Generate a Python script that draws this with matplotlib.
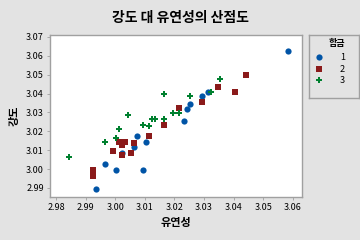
import matplotlib.pyplot as plt

plt.rcParams['font.family'] = ['Noto Sans CJK KR', 'DejaVu Sans']

# 합금 1
x1 = [3.0585, 3.0294, 3.0314, 3.0254, 3.0244, 3.0233, 3.0024, 3.0065, 3.0075,
      3.0105, 2.9967, 3.0004, 3.0095, 2.9936]
y1 = [3.0623, 3.0385, 3.0406, 3.0343, 3.0316, 3.0253, 3.0084, 3.0115, 3.0174,
      3.0142, 3.0025, 2.9994, 2.9994, 2.9893]
# 합금 2
x2 = [3.0217, 3.0166, 3.0443, 3.0346, 3.0406, 3.0294, 3.0014, 3.0034, 3.0024,
      2.9994, 3.0024, 3.0065, 3.0054, 3.0115, 2.9926, 2.9926]
y2 = [3.0322, 3.0232, 3.0496, 3.0433, 3.0406, 3.0353, 3.0142, 3.0142, 3.0126,
      3.0094, 3.0073, 3.0137, 3.0084, 3.0174, 2.9994, 2.9962]
# 합금 3
x3 = [3.0166, 3.0044, 3.0095, 3.0115, 3.0125, 3.0135, 3.0166, 3.0196, 3.0217,
      3.0014, 3.0355, 3.0254, 3.0325, 2.9845, 2.9967, 3.0004]
y3 = [3.0396, 3.0285, 3.0232, 3.0226, 3.0263, 3.0263, 3.0263, 3.0295, 3.0295,
      3.0211, 3.0475, 3.0385, 3.0406, 3.0062, 3.0142, 3.0163]

groups = ['1', '2', '3']
colors = ['#0054a6', '#8b1a1a', '#00802f']
markers = ['o', 's', 'P']
xticks = [2.98, 2.99, 3.00, 3.01, 3.02, 3.03, 3.04, 3.05, 3.06]
yticks = [2.99, 3.00, 3.01, 3.02, 3.03, 3.04, 3.05, 3.06, 3.07]

bg = '#e3e3e3'
edge = '#a0a0a0'

fig = plt.figure(figsize=(3.6, 2.4), dpi=100, facecolor=bg)
ax = fig.add_axes([50/360, 43/240, 252/360, 162/240])
ax.set_facecolor('white')

data = [(x1, y1), (x2, y2), (x3, y3)]
sizes = [20, 20, 18]
for (xs, ys), c, m, s in zip(data, colors, markers, sizes):
    ax.scatter(xs, ys, c=c, marker=m, s=s, linewidths=0, zorder=3)

ax.set_xlim(2.978, 3.0631)
ax.set_ylim(2.9852, 3.0710)
ax.set_xticks(xticks)
ax.set_yticks(yticks)
ax.set_xticklabels([f'{v:.2f}' for v in xticks])
ax.set_yticklabels([f'{v:.2f}' for v in yticks])
ax.tick_params(labelsize=6.5, length=2.5, width=0.6, color=edge, pad=2)
for sp in ax.spines.values():
    sp.set_color(edge)
    sp.set_linewidth(1)

ax.set_xlabel('유연성', fontsize=8, fontweight='bold', labelpad=3)
ax.set_ylabel('강도', fontsize=8, fontweight='bold', labelpad=4)
fig.text(0.5, 0.925, '강도 대 유연성의 산점도', ha='center', va='center',
         fontsize=10, fontweight='bold')

# legend box
lax = fig.add_axes([309/360, 142/240, 50/360, 63/240])
lax.set_xlim(0, 1)
lax.set_ylim(0, 1)
lax.set_xticks([])
lax.set_yticks([])
lax.set_facecolor(bg)
for sp in lax.spines.values():
    sp.set_color(edge)
    sp.set_linewidth(1)
lax.text(0.72, 0.87, '합금', ha='right', va='center', fontsize=6.5, fontweight='bold')
for i, (g, c, m, s) in enumerate(zip(groups, colors, markers, sizes)):
    yy = [0.65, 0.46, 0.28][i]
    lax.scatter([0.2], [yy], c=c, marker=m, s=s, linewidths=0)
    lax.text(0.72, yy, g, ha='right', va='center', fontsize=6.5)

fig.savefig('out.png', dpi=100, facecolor=bg)
